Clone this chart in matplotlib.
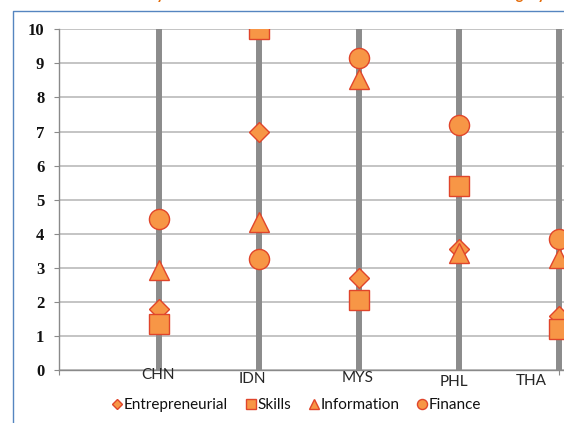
import matplotlib
matplotlib.use("Agg")
import matplotlib.pyplot as plt
from matplotlib.lines import Line2D

# ---- data -------------------------------------------------------------
countries = ["CHN", "IDN", "MYS", "PHL", "THA"]
entrepreneurial = [1.80, 7.00, 2.70, 3.55, 1.60]
skills = [1.35, 10.00, 2.05, 5.40, 1.20]
information = [2.95, 4.35, 8.55, 3.45, 3.30]
finance = [4.45, 3.25, 9.15, 7.20, 3.85]
series_names = ["Entrepreneurial", "Skills", "Information", "Finance"]
y_ticks = list(range(0, 11))
title_text = "Constraints faced by SMEs in ASEAN member states: scores for each category"

# ---- layout / style ---------------------------------------------------
W, H = 564, 423
FILL = "#F79646"
EDGE = "#E0452B"
GRID = "#B4B4B4"
AXIS = "#8A8A8A"
STEM = "#8C8C8C"
SANS = ["Lato", "DejaVu Sans"]

fig = plt.figure(figsize=(W / 100, H / 100), dpi=100)
fig.patch.set_facecolor("white")

left_px, right_px, top_px, bottom_px = 59, 564, 29.3, 370.3
ax = fig.add_axes([left_px / W, 1 - bottom_px / H,
                   (right_px - left_px) / W, (bottom_px - top_px) / H])

x = list(range(1, len(countries) + 1))
unit_px = 99.9
ax.set_xlim(0, (right_px - left_px) / unit_px)
ax.set_ylim(0, 10)

# horizontal gridlines
ax.set_yticks(y_ticks)
ax.yaxis.grid(True, color=GRID, linewidth=1.1, zorder=0)
ax.set_axisbelow(True)

# thick vertical stems at each country
ax.vlines(x, 0, 10, color=STEM, linewidth=4.3, zorder=1.5)

# series markers
styles = [("D", 10.0), ("s", 14.8), ("^", 14.5), ("o", 14.5)]
for vals, name, (mk, ms) in zip([entrepreneurial, skills, information, finance],
                                 series_names, styles):
    ax.plot(x, vals, linestyle="none", marker=mk, markersize=ms,
            markerfacecolor=FILL, markeredgecolor=EDGE, markeredgewidth=1.0,
            label=name, zorder=3)

# spines
for s in ("top", "right"):
    ax.spines[s].set_visible(False)
for s in ("left", "bottom"):
    ax.spines[s].set_color(AXIS)
    ax.spines[s].set_linewidth(1.0)

# y tick labels
ax.tick_params(axis="y", direction="out", length=3.6, width=0.8, color=AXIS, pad=7)
for lab in ax.get_yticklabels():
    lab.set_fontfamily(["Liberation Serif", "DejaVu Serif"])
    lab.set_fontweight("bold")
    lab.set_fontsize(12)
    lab.set_color("#111111")

# x axis: only end ticks, no tick labels
ax.set_xticks([0, 5])
ax.set_xticklabels([])
ax.tick_params(axis="x", direction="out", length=3.6, width=0.8, color=AXIS)

# country labels below the axis
label_x = [0.99, 1.94, 2.99, 3.95, 4.73]
label_drop_px = [-2, 2, 1, 5, 4]
for name, lx, dy in zip(countries, label_x, label_drop_px):
    ax.annotate(name, xy=(lx, 0), xycoords="data",
                xytext=(0, -dy * 72 / 100), textcoords="offset points",
                ha="center", va="top", fontsize=11, family=SANS, color="#262626")

# legend
leg = ax.legend(loc="center", bbox_to_anchor=(297 / W, 1 - 405 / H),
                bbox_transform=fig.transFigure, ncol=4, frameon=False,
                markerscale=0.5, handlelength=0.6, handletextpad=0.12,
                columnspacing=1.2, borderpad=0, prop={"family": SANS, "size": 11})
for t in leg.get_texts():
    t.set_color("#111111")

# chart-area border (left and top edges)
bx, by = 12.5 / W, 1 - 11 / H
fig.add_artist(Line2D([bx, bx, 1.02], [-0.02, by, by], transform=fig.transFigure,
                      color="#5585C0", linewidth=1.0))

# heading above the chart area: size it so that it runs from the "by"
# near x=157 px to its end near x=545 px
renderer = fig.canvas.get_renderer()
probe_full = fig.text(0, 0, title_text, fontsize=10, family=SANS, fontweight="bold")
probe_pre = fig.text(0, 0, title_text[:title_text.index(" by ") + 2],
                     fontsize=10, family=SANS, fontweight="bold")
w_full = probe_full.get_window_extent(renderer).width
w_pre = probe_pre.get_window_extent(renderer).width
probe_full.remove()
probe_pre.remove()
title_size = 10 * (545 - 157) / (w_full - w_pre)
fig.text(545 / W, 1 + 0.6 / H, title_text, ha="right", va="baseline",
         fontsize=title_size, family=SANS, fontweight="bold", color="#E46C0A")

fig.savefig("out.png", dpi=100)
